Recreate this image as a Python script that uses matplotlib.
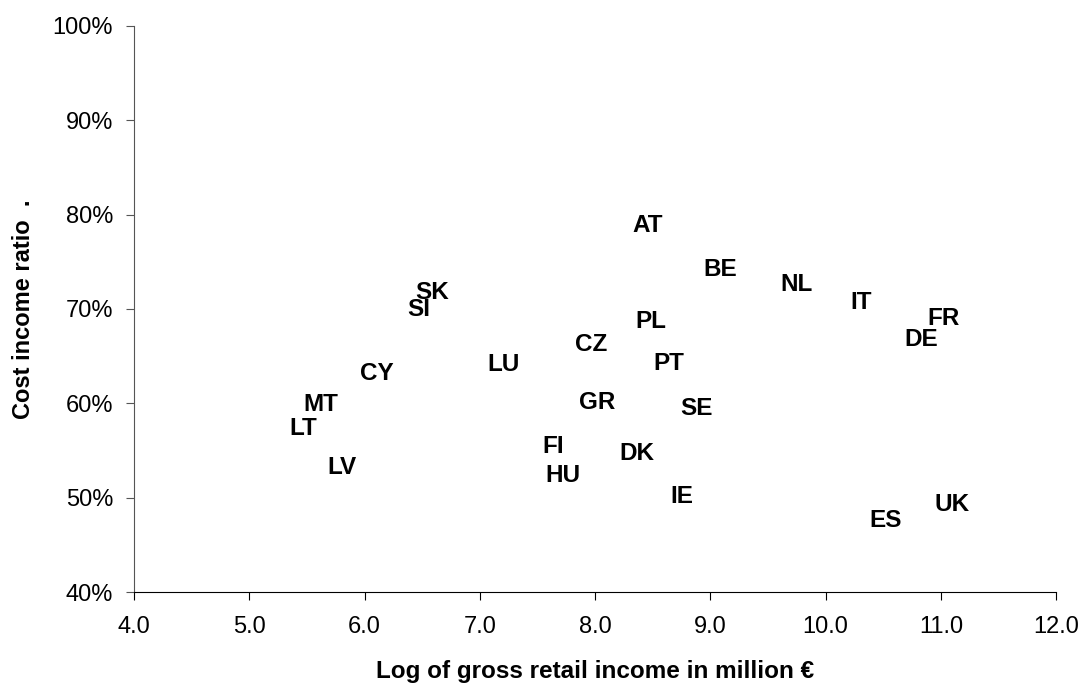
import matplotlib
matplotlib.use('Agg')
import matplotlib.pyplot as plt
from matplotlib.ticker import FuncFormatter, MultipleLocator

# Country codes with log gross retail income (x) and cost income ratio in % (y)
countries = ['AT', 'BE', 'NL', 'IT', 'FR', 'DE', 'SK', 'SI', 'PL', 'CZ', 'LU', 'PT',
             'CY', 'MT', 'GR', 'SE', 'LT', 'FI', 'DK', 'LV', 'HU', 'IE', 'UK', 'ES']
log_income = [8.46, 9.09, 9.75, 10.31, 11.02, 10.83, 6.59, 6.47, 8.48, 7.97, 7.21, 8.64,
              6.11, 5.62, 8.02, 8.88, 5.47, 7.64, 8.36, 5.80, 7.72, 8.75, 11.10, 10.52]
cost_income = [78.9, 74.2, 72.6, 70.7, 69.0, 66.8, 71.7, 69.9, 68.7, 66.2, 64.1, 64.2,
               63.2, 59.9, 60.1, 59.5, 57.3, 55.4, 54.7, 53.2, 52.4, 50.1, 49.3, 47.6]

plt.rcParams['font.family'] = ['Liberation Sans', 'DejaVu Sans']

fig = plt.figure(figsize=(10.8, 6.84), dpi=100, facecolor='white')
ax = fig.add_axes([0.124, 0.1345, 0.854, 0.8275])

# invisible points, only the labels show (SK and SI overlap as in the original)
ax.scatter(log_income, cost_income, s=0)
for name, x, y in zip(countries, log_income, cost_income):
    ax.text(x, y, name, ha='center', va='center', fontsize=17.5, fontweight='bold', color='black')

ax.set_xlim(4, 12)
ax.set_ylim(40, 100)
ax.xaxis.set_major_locator(MultipleLocator(1))
ax.yaxis.set_major_locator(MultipleLocator(10))
ax.xaxis.set_major_formatter(FuncFormatter(lambda v, p: f'{v:.1f}'))
ax.yaxis.set_major_formatter(FuncFormatter(lambda v, p: f'{v:.0f}%'))

ax.spines['top'].set_visible(False)
ax.spines['right'].set_visible(False)
ax.spines['left'].set_color('#555555')
ax.spines['bottom'].set_color('black')
ax.tick_params(axis='both', direction='out', length=6, labelsize=17, colors='black')
ax.tick_params(axis='y', pad=9, color='#555555')
ax.tick_params(axis='x', pad=11)

ax.set_xlabel('Log of gross retail income in million €', fontsize=17.5, fontweight='bold', labelpad=16)
ax.set_ylabel('Cost income ratio  .', fontsize=17, fontweight='bold', labelpad=13)

fig.savefig('out.png', dpi=100)
plt.close()
